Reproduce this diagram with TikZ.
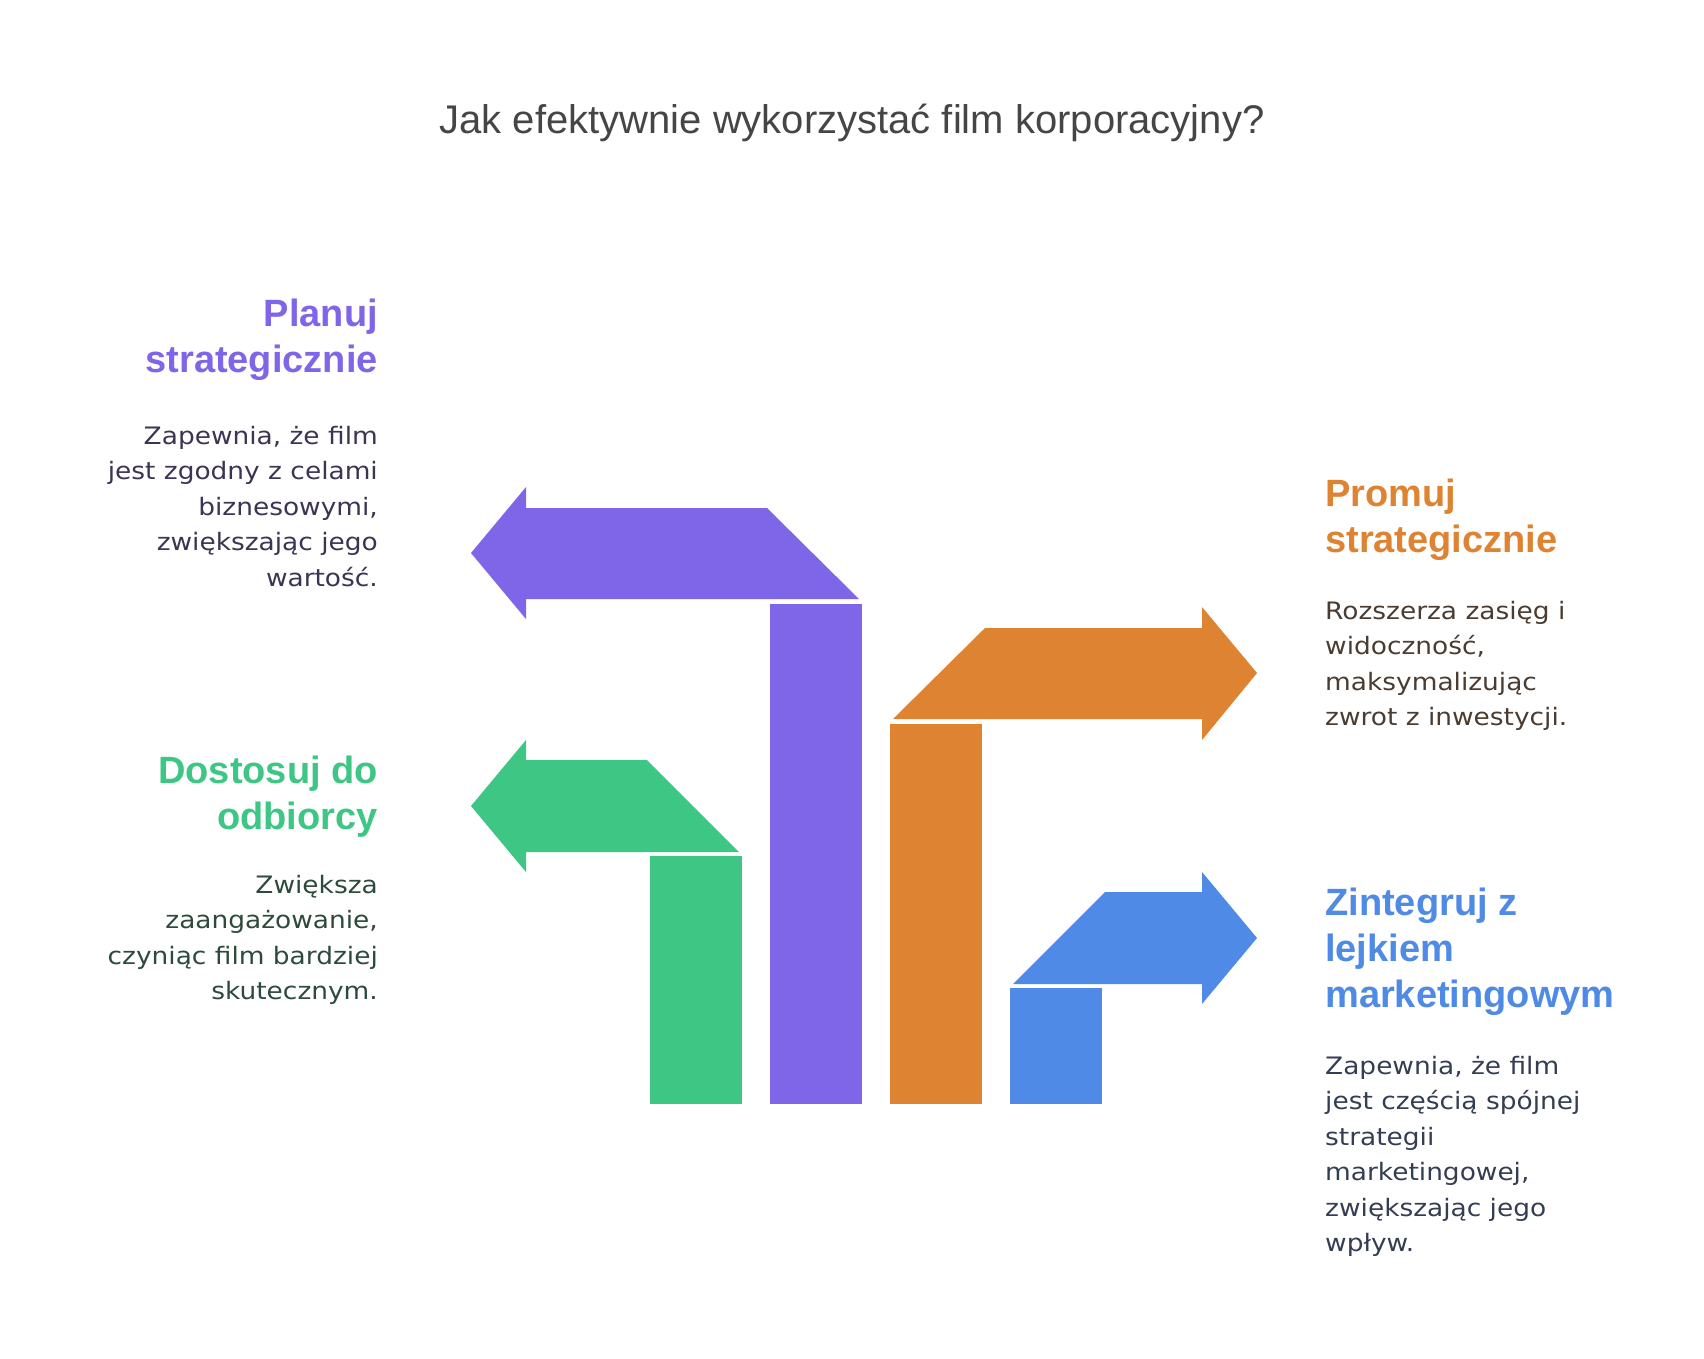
\documentclass[tikz,border=0pt]{standalone}
\usepackage{fontspec}
\setmainfont{Liberation Sans}
\newfontfamily\bodyfont[FakeStretch=1.1]{DejaVu Sans}
\definecolor{titleC}{HTML}{454545}
\definecolor{planC}{HTML}{7F66E8}
\definecolor{adaptC}{HTML}{3EC684}
\definecolor{promoC}{HTML}{DE8331}
\definecolor{funnelC}{HTML}{4E8AE6}
\definecolor{planT}{HTML}{3C3452}
\definecolor{adaptT}{HTML}{2E4A3D}
\definecolor{promoT}{HTML}{4A3C30}
\definecolor{funnelT}{HTML}{343E52}
\tikzset{
  titletext/.style = {font=\fontsize{40}{48}\selectfont, text=titleC, inner sep=0pt},
  headL/.style = {font=\fontsize{38}{46}\selectfont\bfseries, inner sep=0pt,
                  anchor=north east, align=right},
  headR/.style = {font=\fontsize{38}{46}\selectfont\bfseries, inner sep=0pt,
                  anchor=north west, align=left},
  descL/.style = {font=\bodyfont\fontsize{24}{35.5}\selectfont, inner sep=0pt,
                  anchor=north east, align=right},
  descR/.style = {font=\bodyfont\fontsize{24}{35.5}\selectfont, inner sep=0pt,
                  anchor=north west, align=left},
}
\begin{document}
\begin{tikzpicture}[x=1pt, y=-1pt]
    \useasboundingbox[fill=white] (0,0) rectangle (1704,1358);

    \node[titletext, anchor=base] (title) at (852,133)
      {Jak efektywnie wykorzystać film korporacyjny?};

    % arrows
    \fill[planC] (471,553) -- (526,487) -- (526,508) -- (767,508) -- (859,599)
      -- (526,599) -- (526,619) -- cycle;
    \fill[planC] (770,604) rectangle (862,1104);

    \fill[adaptC] (471,806) -- (526,740) -- (526,760) -- (647,760) -- (739,852)
      -- (526,852) -- (526,872) -- cycle;
    \fill[adaptC] (650,856) rectangle (742,1104);

    \fill[promoC] (1257,673) -- (1202,607) -- (1202,628) -- (985,628) -- (893,719)
      -- (1202,719) -- (1202,740) -- cycle;
    \fill[promoC] (890,724) rectangle (982,1104);

    \fill[funnelC] (1257,938) -- (1202,872) -- (1202,892) -- (1105,892) -- (1013,984)
      -- (1202,984) -- (1202,1004) -- cycle;
    \fill[funnelC] (1010,988) rectangle (1102,1104);

    % labels
    \node[headL, text=planC] (planH) at (378,299) {Planuj\\strategicznie};
    \node[descL, text=planT] (planD) at (378,426)
      {Zapewnia, że film\\jest zgodny z celami\\biznesowymi,\\zwiększając jego\\wartość.};

    \node[headL, text=adaptC] (adaptH) at (378,756) {Dostosuj do\\odbiorcy};
    \node[descL, text=adaptT] (adaptD) at (378,875)
      {Zwiększa\\zaangażowanie,\\czyniąc film bardziej\\skutecznym.};

    \node[headR, text=promoC] (promoH) at (1325,479) {Promuj\\strategicznie};
    \node[descR, text=promoT] (promoD) at (1325,601)
      {Rozszerza zasięg i\\widoczność,\\maksymalizując\\zwrot z inwestycji.};

    \node[headR, text=funnelC] (funnelH) at (1325,888) {Zintegruj z\\lejkiem\\marketingowym};
    \node[descR, text=funnelT] (funnelD) at (1325,1056)
      {Zapewnia, że film\\jest częścią spójnej\\strategii\\marketingowej,\\zwiększając jego\\wpływ.};

\end{tikzpicture}
\end{document}
